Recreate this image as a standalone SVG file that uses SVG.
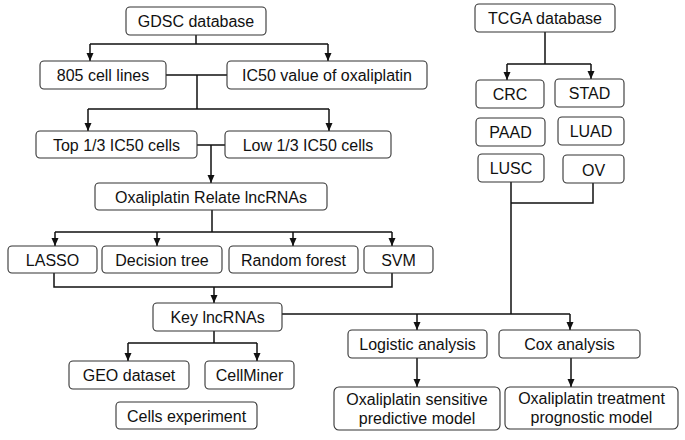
<svg xmlns="http://www.w3.org/2000/svg" width="685" height="440" viewBox="0 0 685 440">
<defs>
<marker id="ah" viewBox="0 0 8 8" refX="8" refY="4" markerWidth="8" markerHeight="8" markerUnits="userSpaceOnUse" orient="auto">
<path d="M0,0.5 L8,4 L0,7.5 Z" fill="#111"/>
</marker>
<style>
.b{fill:#fff;stroke:#333;stroke-width:1.1}
.t{font-family:"Liberation Sans",Arial,sans-serif;font-size:16px;fill:#111;text-anchor:middle}
.c{fill:none;stroke:#111;stroke-width:1.5}
.a{marker-end:url(#ah)}
</style>
</defs>
<rect width="685" height="440" fill="#fff"/>
<g id="connectors">
<path class="c" d="M196,35 V44 M90,44 H328"/>
<path class="c a" d="M90,44 V61"/>
<path class="c a" d="M328,44 V61"/>
<path class="c" d="M166,75 H227 M197,75 V109 M88,109 H329"/>
<path class="c a" d="M88,109 V131"/>
<path class="c a" d="M329,109 V131"/>
<path class="c" d="M197,145 H225"/>
<path class="c a" d="M211,145 V183"/>
<path class="c" d="M212,210 V232 M55,232 H392"/>
<path class="c a" d="M55,232 V246"/>
<path class="c a" d="M157,232 V246"/>
<path class="c a" d="M293,232 V246"/>
<path class="c a" d="M392,232 V246"/>
<path class="c" d="M54,273 V287 H392 V273"/>
<path class="c a" d="M214,287 V303"/>
<path class="c" d="M214,331 V343 M128,343 H257"/>
<path class="c a" d="M128,343 V361"/>
<path class="c a" d="M257,343 V361"/>
<path class="c" d="M545,32 V64 M507,64 H591"/>
<path class="c a" d="M507,64 V80"/>
<path class="c a" d="M591,64 V79"/>
<path class="c" d="M511,182 V314 M593,183 V203 H511"/>
<path class="c" d="M282,314 H570"/>
<path class="c a" d="M417,314 V330"/>
<path class="c a" d="M570,314 V330"/>
<path class="c a" d="M417,358 V387"/>
<path class="c a" d="M571,358 V387"/>
</g>
<g id="gdsc"><rect class="b" x="126" y="7" width="140" height="28" rx="4"/><text class="t" x="196" y="27">GDSC database</text></g>
<g id="cells805"><rect class="b" x="40" y="61" width="126" height="28" rx="4"/><text class="t" x="103" y="81">805 cell lines</text></g>
<g id="ic50"><rect class="b" x="227" y="61" width="200" height="28" rx="4"/><text class="t" x="327" y="81">IC50 value of oxaliplatin</text></g>
<g id="top"><rect class="b" x="36" y="131" width="161" height="27" rx="4"/><text class="t" x="116.5" y="151">Top 1/3 IC50 cells</text></g>
<g id="low"><rect class="b" x="225" y="131" width="166" height="27" rx="4"/><text class="t" x="308" y="151">Low 1/3 IC50 cells</text></g>
<g id="related"><rect class="b" x="95" y="183" width="232" height="27" rx="4"/><text class="t" x="211" y="203">Oxaliplatin Relate lncRNAs</text></g>
<g id="lasso"><rect class="b" x="8" y="246" width="89" height="27" rx="4"/><text class="t" x="52.5" y="266">LASSO</text></g>
<g id="dtree"><rect class="b" x="102" y="246" width="120" height="27" rx="4"/><text class="t" x="162" y="266">Decision tree</text></g>
<g id="rforest"><rect class="b" x="229" y="246" width="129" height="27" rx="4"/><text class="t" x="293.5" y="266">Random forest</text></g>
<g id="svm"><rect class="b" x="364" y="246" width="69" height="27" rx="4"/><text class="t" x="398.5" y="266">SVM</text></g>
<g id="key"><rect class="b" x="153" y="303" width="129" height="28" rx="4"/><text class="t" x="217.5" y="323">Key lncRNAs</text></g>
<g id="geo"><rect class="b" x="69" y="361" width="120" height="28" rx="4"/><text class="t" x="129" y="381">GEO dataset</text></g>
<g id="cellminer"><rect class="b" x="205" y="361" width="89" height="28" rx="4"/><text class="t" x="249.5" y="381">CellMiner</text></g>
<g id="cellsexp"><rect class="b" x="116" y="402" width="141" height="27" rx="4"/><text class="t" x="186.5" y="422">Cells experiment</text></g>
<g id="tcga"><rect class="b" x="475" y="4" width="140" height="28" rx="4"/><text class="t" x="545" y="24">TCGA database</text></g>
<g id="crc"><rect class="b" x="476" y="80" width="68" height="28" rx="4"/><text class="t" x="510" y="100">CRC</text></g>
<g id="stad"><rect class="b" x="555" y="79" width="69" height="28" rx="4"/><text class="t" x="589.5" y="99">STAD</text></g>
<g id="paad"><rect class="b" x="476" y="118" width="69" height="28" rx="4"/><text class="t" x="510.5" y="138">PAAD</text></g>
<g id="luad"><rect class="b" x="558" y="117" width="66" height="28" rx="4"/><text class="t" x="591" y="137">LUAD</text></g>
<g id="lusc"><rect class="b" x="478" y="154" width="66" height="28" rx="4"/><text class="t" x="511" y="174">LUSC</text></g>
<g id="ov"><rect class="b" x="563" y="155" width="61" height="28" rx="4"/><text class="t" x="593.5" y="176">OV</text></g>
<g id="logistic"><rect class="b" x="348" y="330" width="139" height="28" rx="4"/><text class="t" x="417.5" y="350">Logistic analysis</text></g>
<g id="cox"><rect class="b" x="499" y="330" width="141" height="28" rx="4"/><text class="t" x="569.5" y="350">Cox analysis</text></g>
<g id="predictive"><rect class="b" x="334" y="387" width="166" height="43" rx="5"/><text class="t" x="417" y="405">Oxaliplatin sensitive</text><text class="t" x="417" y="424">predictive model</text></g>
<g id="prognostic"><rect class="b" x="505" y="387" width="173" height="42" rx="5"/><text class="t" x="591.5" y="404">Oxaliplatin treatment</text><text class="t" x="591.5" y="423">prognostic model</text></g>
</svg>
